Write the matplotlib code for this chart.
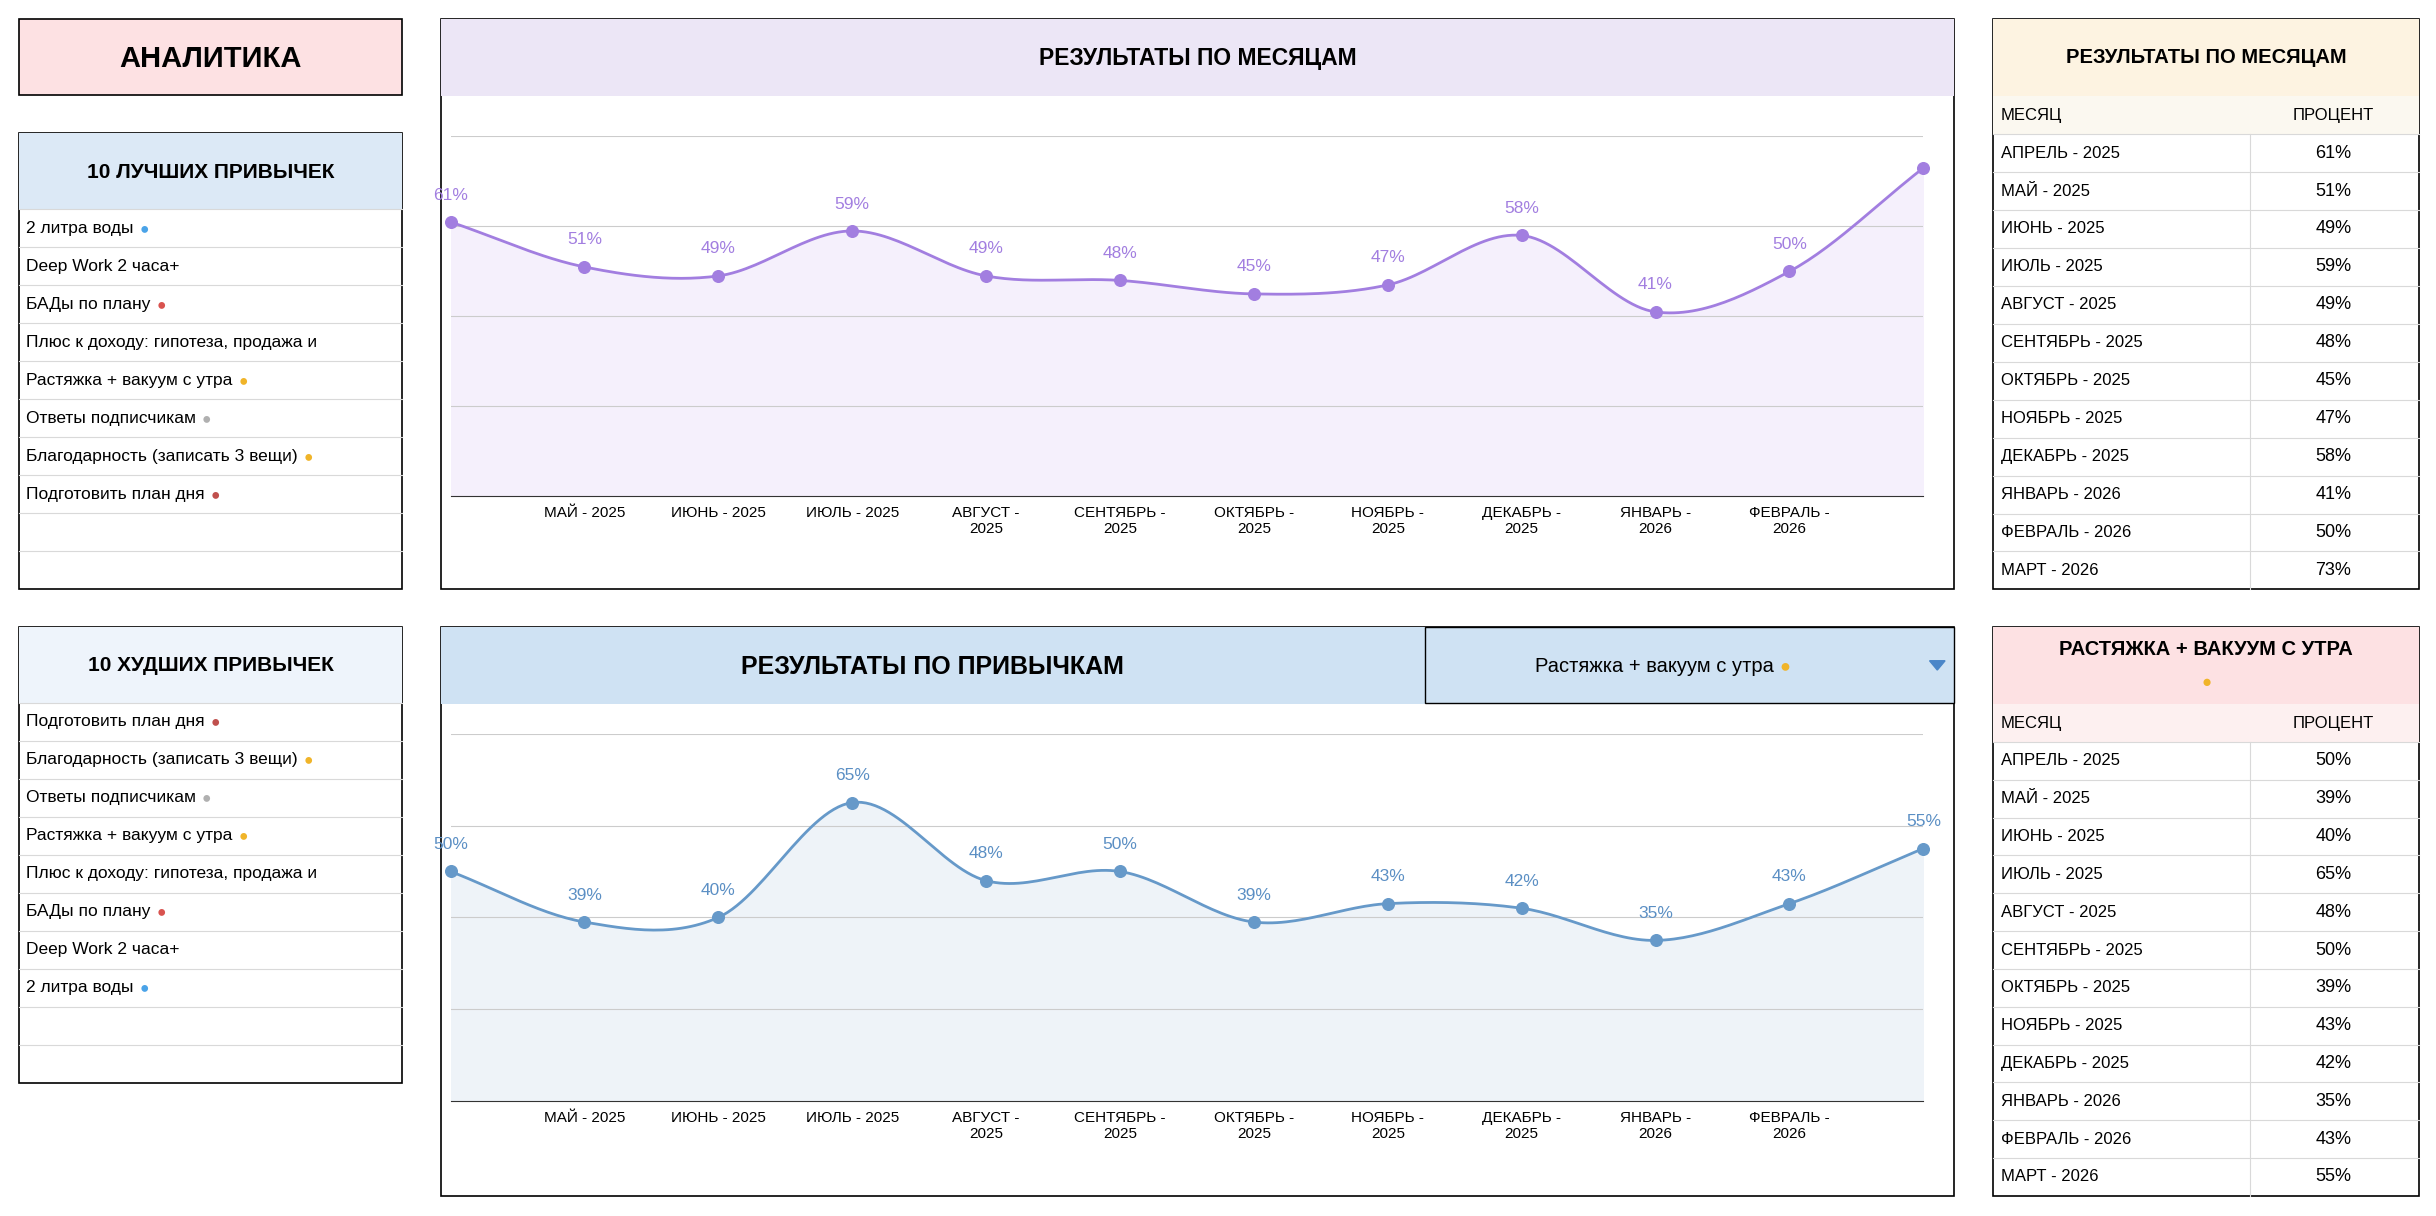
import matplotlib
matplotlib.use('Agg')
import matplotlib.pyplot as plt
from matplotlib.patches import Rectangle, Polygon
import numpy as np

plt.rcParams['font.family'] = ['Liberation Sans', 'DejaVu Sans']

months_short = ['', 'МАЙ - 2025', 'ИЮНЬ - 2025', 'ИЮЛЬ - 2025', 'АВГУСТ -\n2025', 'СЕНТЯБРЬ -\n2025',
                'ОКТЯБРЬ -\n2025', 'НОЯБРЬ -\n2025', 'ДЕКАБРЬ -\n2025', 'ЯНВАРЬ -\n2026', 'ФЕВРАЛЬ -\n2026', '']
months_full = ['АПРЕЛЬ - 2025', 'МАЙ - 2025', 'ИЮНЬ - 2025', 'ИЮЛЬ - 2025', 'АВГУСТ - 2025',
               'СЕНТЯБРЬ - 2025', 'ОКТЯБРЬ - 2025', 'НОЯБРЬ - 2025', 'ДЕКАБРЬ - 2025',
               'ЯНВАРЬ - 2026', 'ФЕВРАЛЬ - 2026', 'МАРТ - 2026']
total_pct = [61, 51, 49, 59, 49, 48, 45, 47, 58, 41, 50, 73]
habit_pct = [50, 39, 40, 65, 48, 50, 39, 43, 42, 35, 43, 55]
# (text, emoji colour or None) -- emoji glyphs are not installed, drawn as small marks
best_habits = [('2 литра воды', '#4aa3e8'), ('Deep Work 2 часа+', None), ('БАДы по плану', '#d9534f'),
               ('Плюс к доходу: гипотеза, продажа и', None), ('Растяжка + вакуум с утра', '#f0b429'),
               ('Ответы подписчикам', '#b0b0b0'), ('Благодарность (записать 3 вещи)', '#f0b429'),
               ('Подготовить план дня', '#c0504d')]
worst_habits = [('Подготовить план дня', '#c0504d'), ('Благодарность (записать 3 вещи)', '#f0b429'),
                ('Ответы подписчикам', '#b0b0b0'), ('Растяжка + вакуум с утра', '#f0b429'),
                ('Плюс к доходу: гипотеза, продажа и', None), ('БАДы по плану', '#d9534f'),
                ('Deep Work 2 часа+', None), ('2 литра воды', '#4aa3e8')]
selected_habit = ('Растяжка + вакуум с утра', '#f0b429')

W, H = 1568.0, 784.0
fig = plt.figure(figsize=(24.36, 12.16), dpi=100)
bg = fig.add_axes([0, 0, 1, 1])
bg.set_xlim(0, W)
bg.set_ylim(H, 0)
bg.axis('off')


def box(x0, y0, x1, y1, fc='white', ec='black', lw=1.2, z=1):
    bg.add_patch(Rectangle((x0, y0), x1 - x0, y1 - y0, facecolor=fc, edgecolor=ec, lw=lw, zorder=z))


def hline(x0, x1, y, c='#d9d9d9'):
    bg.plot([x0, x1], [y, y], color=c, lw=0.8, zorder=2)


def emoji_text(x, y, item, fs, ha='left'):
    txt, col = item
    t = bg.text(x, y, txt, ha=ha, va='center', fontsize=fs, zorder=3)
    if col:
        bg.annotate('●', xy=(1, 0.5), xycoords=t, xytext=(4, 0), textcoords='offset points',
                    ha='left', va='center', fontsize=fs * 0.9, color=col, zorder=3)
    return t


# title
box(12, 12, 259, 61, fc='#fde1e3')
bg.text(135.5, 38, 'АНАЛИТИКА', ha='center', va='center', fontsize=21, fontweight='bold', zorder=3)


def habit_table(y0, title, fc, items):
    box(12, y0, 259, y0 + 294)
    bg.add_patch(Rectangle((12, y0), 247, 49, facecolor=fc, edgecolor='none', zorder=1.5))
    bg.text(135.5, y0 + 25, title, ha='center', va='center', fontsize=15, fontweight='bold', zorder=3)
    rh = 245 / 10
    for i in range(10):
        y = y0 + 49 + i * rh
        hline(12, 259, y)
        if i < len(items):
            emoji_text(17, y + rh / 2, items[i], 12.5)


habit_table(86, '10 ЛУЧШИХ ПРИВЫЧЕК', '#dce9f6', best_habits)
habit_table(404, '10 ХУДШИХ ПРИВЫЧЕК', '#eef4fb', worst_habits)


def month_table(y0, y1, title, fc, values, emoji=None):
    box(1283, y0, 1557, y1)
    bg.add_patch(Rectangle((1283, y0), 274, 50, facecolor=fc, edgecolor='none', zorder=1.5))
    if emoji:
        bg.text(1420, y0 + 15, title, ha='center', va='center', fontsize=14.5, fontweight='bold', zorder=3)
        bg.text(1420, y0 + 36, '●', ha='center', va='center', fontsize=12, color=emoji, zorder=3)
    else:
        bg.text(1420, y0 + 25, title, ha='center', va='center', fontsize=14.5, fontweight='bold', zorder=3)
    top = y0 + 50
    rh = (y1 - top) / 13
    bg.add_patch(Rectangle((1283, top), 274, rh, facecolor='#fbf8f0' if emoji is None else '#fdf0f0',
                           edgecolor='none', zorder=1.5))
    bg.text(1288, top + rh / 2, 'МЕСЯЦ', ha='left', va='center', fontsize=12, zorder=3)
    bg.text(1502, top + rh / 2, 'ПРОЦЕНТ', ha='center', va='center', fontsize=12, zorder=3)
    for i, (m, v) in enumerate(zip(months_full, values)):
        y = top + (i + 1) * rh
        hline(1283, 1557, y)
        bg.text(1288, y + rh / 2, m, ha='left', va='center', fontsize=12, zorder=3)
        bg.text(1502, y + rh / 2, f'{v}%', ha='center', va='center', fontsize=13, zorder=3)
    bg.plot([1448, 1448], [top + rh, y1], color='#d9d9d9', lw=0.8, zorder=2)


month_table(12, 380, 'РЕЗУЛЬТАТЫ ПО МЕСЯЦАМ', '#fdf3e1', total_pct)
month_table(404, 771, 'РАСТЯЖКА + ВАКУУМ С УТРА', '#fde1e3', habit_pct, emoji='#f0b429')


def smooth(xs, ys, n=30):
    # catmull-rom curve through the points
    px = np.concatenate([[2 * xs[0] - xs[1]], xs, [2 * xs[-1] - xs[-2]]])
    py = np.concatenate([[2 * ys[0] - ys[1]], ys, [2 * ys[-1] - ys[-2]]])
    ox, oy = [], []
    t = np.linspace(0, 1, n)
    for i in range(1, len(px) - 2):
        for arr, out in ((px, ox), (py, oy)):
            p0, p1, p2, p3 = arr[i - 1:i + 3]
            out.extend(0.5 * (2 * p1 + (-p0 + p2) * t + (2 * p0 - 5 * p1 + 4 * p2 - p3) * t ** 2
                              + (-p0 + 3 * p1 - 3 * p2 + p3) * t ** 3))
    return np.array(ox), np.array(oy)


def chart(y0, y1, band, ax_rect, values, color, fill, label_color):
    box(284, y0, 1258, y1)
    bg.add_patch(Rectangle((284, y0), 974, 50, facecolor=band, edgecolor='none', zorder=1.5))
    x0, yt, x1, yb = ax_rect
    ax = fig.add_axes([x0 / W, 1 - yb / H, (x1 - x0) / W, (yb - yt) / H])
    ax.set_xlim(0, 11)
    ax.set_ylim(0, 80)
    ax.patch.set_alpha(0)
    for s in ['top', 'left', 'right']:
        ax.spines[s].set_visible(False)
    ax.spines['bottom'].set_color('#333333')
    ax.set_yticks([20, 40, 60, 80])
    ax.set_yticklabels([])
    ax.tick_params(left=False, bottom=False)
    ax.grid(axis='y', color='#cccccc', lw=0.8)
    xs = np.arange(len(values))
    ax.set_xticks(xs)
    ax.set_xticklabels(months_short, fontsize=11)
    sx, sy = smooth(xs.astype(float), np.array(values, float))
    ax.fill_between(sx, sy, 0, color=fill, zorder=1)
    ax.plot(sx, sy, color=color, lw=2, zorder=2)
    ax.scatter(xs, values, s=70, color=color, zorder=3, clip_on=False)
    for x, v in zip(xs, values):
        if v > 70:
            continue
        a = ax.annotate(f'{v}%', (x, v), xytext=(0, 14), textcoords='offset points', ha='center',
                        va='bottom', fontsize=12.5, color=label_color)
        a.set_clip_on(x == 0)
    return ax


chart(12, 380, '#ece6f6', (290, 88, 1238, 320), total_pct, '#a27ee0', '#f5f0fc', '#a27ee0')
bg.text(771, 38, 'РЕЗУЛЬТАТЫ ПО МЕСЯЦАМ', ha='center', va='center', fontsize=16.5, fontweight='bold', zorder=3)

chart(404, 771, '#cfe2f3', (290, 473, 1238, 710), habit_pct, '#6699c9', '#eef3f8', '#5b8fc4')
bg.text(600, 430, 'РЕЗУЛЬТАТЫ ПО ПРИВЫЧКАМ', ha='center', va='center', fontsize=18, fontweight='bold', zorder=3)
box(917, 404, 1258, 453, fc='#cfe2f3', ec='black', lw=1.0, z=2)
emoji_text(1065, 430, selected_habit, 14.5, ha='center')
bg.add_patch(Polygon([[1242, 426], [1252, 426], [1247, 432]], closed=True, color='#4a86c8', zorder=3))

fig.savefig('out.png', dpi=100)
